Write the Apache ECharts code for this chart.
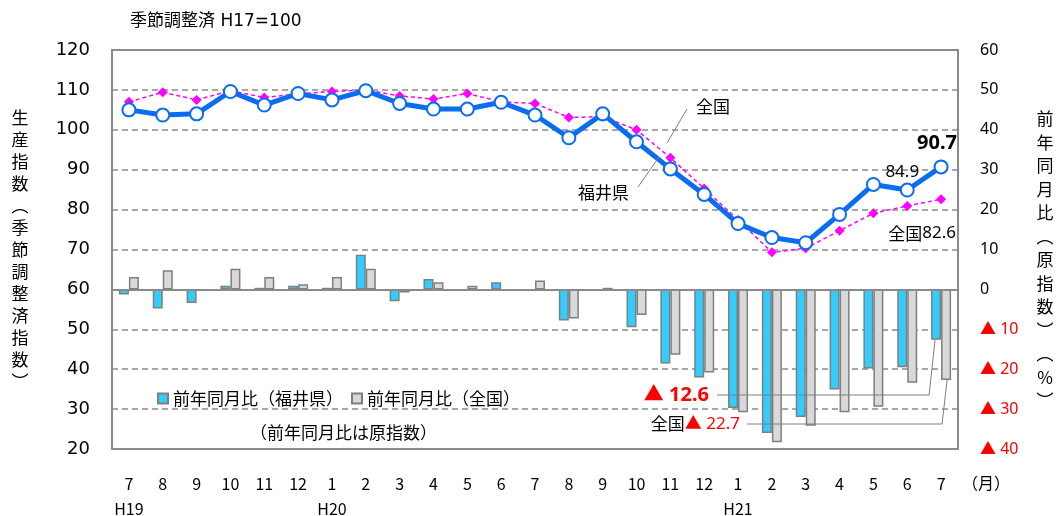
<!DOCTYPE html>
<html>
<head>
<meta charset="utf-8">
<script src="https://cdn.jsdelivr.net/npm/echarts@6/dist/echarts.min.js"></script>
<style>
html,body{margin:0;padding:0;background:#fff}
#chart{width:1059px;height:516px}
</style>
</head>
<body>
<div id="chart"></div>
<script>
// data
const months = ['7','8','9','10','11','12','1','2','3','4','5','6','7','8','9','10','11','12','1','2','3','4','5','6','7'];
const eras   = ['H19','','','','','','H20','','','','','','','','','','','','H21','','','','','',''];
const fukuiIndex  = [105.0,103.7,104.0,109.6,106.2,109.1,107.5,109.8,106.6,105.2,105.2,106.9,103.7,98.0,104.0,97.0,90.2,83.8,76.5,73.0,71.7,78.8,86.3,84.9,90.7];
const nationIndex = [107.0,109.4,107.5,109.8,108.1,109.0,109.6,110.0,108.5,107.7,109.1,107.0,106.6,103.1,103.3,100.0,93.0,85.3,77.4,69.3,70.3,74.7,79.1,80.9,82.6];
const fukuiYoY  = [-1.3,-4.8,-3.4,0.9,0.4,0.9,0.4,8.7,-3.0,2.6,-0.4,1.8,-0.4,-7.8,-0.4,-9.5,-18.6,-22.1,-29.7,-36.0,-32.0,-25.1,-19.8,-19.5,-12.6];
const nationYoY = [3.1,4.8,-0.4,5.2,3.1,1.3,3.1,5.2,-0.8,1.8,0.9,-0.4,2.2,-7.3,0.4,-6.4,-16.4,-20.8,-30.8,-38.3,-34.2,-30.8,-29.4,-23.4,-22.7];
const leftTicks  = {min:20, max:120, step:10};
const rightTicks = {min:-40, max:60, step:10};

const CJK = '"Noto Sans CJK JP", sans-serif';
const NUM = '"DejaVu Sans", "Noto Sans CJK JP", sans-serif';
const LAT = '"Noto Sans", "Noto Sans CJK JP", sans-serif';
const GRID_C = '#8a8a8a';

const chart = echarts.init(document.getElementById('chart'));

const cats = months.map((m,i)=>m+'\n'+eras[i]);
const vert = (s) => s.split('').join('\n');

chart.setOption({
  animation:false,
  backgroundColor:'#fff',
  grid:{left:112,right:101,top:50,bottom:67,outerBoundsMode:'none',
        show:true,borderColor:GRID_C,borderWidth:2,backgroundColor:'transparent'},
  legend:{
    left:152, top:385, itemWidth:10, itemHeight:10, itemGap:8, icon:'rect',
    textStyle:{fontFamily:CJK,fontSize:17,color:'#000'},
    data:['前年同月比（福井県）','前年同月比（全国）']
  },
  xAxis:{
    type:'category', data:cats, boundaryGap:true,
    axisLine:{show:false}, axisTick:{show:false},
    axisLabel:{fontFamily:CJK,fontSize:16,color:'#000',lineHeight:25,margin:22,interval:0}
  },
  yAxis:[
    {type:'value',min:leftTicks.min,max:leftTicks.max,interval:leftTicks.step,
     axisLine:{show:false},axisTick:{show:false},
     axisLabel:{fontFamily:NUM,fontSize:18,color:'#000',margin:22},
     splitLine:{show:true,lineStyle:{color:GRID_C,width:1.5,type:[6,4]}}},
    {type:'value',min:rightTicks.min,max:rightTicks.max,interval:rightTicks.step,position:'right',
     axisLine:{show:false},axisTick:{show:false},splitLine:{show:false},
     axisLabel:{margin:22,
       formatter:(v)=> v<0 ? '{r|▲ '+(-v)+'}' : '{b|'+v+'}',
       rich:{r:{color:'#ff0000',fontFamily:LAT,fontSize:16},b:{color:'#000',fontFamily:LAT,fontSize:16}}}}
  ],
  series:[
    {name:'前年同月比（福井県）',type:'bar',yAxisIndex:1,data:fukuiYoY,barWidth:10,barGap:'0%',
     itemStyle:{color:'#33ccff',borderColor:'#7f7f7f',borderWidth:1.5},
     markLine:{silent:true,symbol:'none',label:{show:false},
       lineStyle:{color:'#8a8a8a',width:2,type:'solid'},data:[{yAxis:0}]}},
    {name:'前年同月比（全国）',type:'bar',yAxisIndex:1,data:nationYoY,barWidth:10,
     itemStyle:{color:'#d9d9d9',borderColor:'#7f7f7f',borderWidth:1.5}},
    {name:'全国',type:'line',yAxisIndex:0,data:nationIndex,
     symbol:'diamond',symbolSize:10,
     lineStyle:{color:'#ff00ff',width:1.5,type:[4,3]},
     itemStyle:{color:'#ff00ff'}},
    {name:'福井県',type:'line',yAxisIndex:0,data:fukuiIndex,
     symbol:'circle',symbolSize:13,
     lineStyle:{color:'#0a6cf0',width:5},
     itemStyle:{color:'#fff',borderColor:'#0a6cf0',borderWidth:2}}
  ]
});

// annotations anchored on the data
const px = (i,v,yi) => chart.convertToPixel({xAxisIndex:0,yAxisIndex:yi},[i,v]);
const last = months.length-1;
const pF  = px(last, fukuiIndex[last], 0);
const pF2 = px(last-1, fukuiIndex[last-1], 0);
const pN  = px(last, nationIndex[last], 0);
const bF  = px(last, fukuiYoY[last], 1);
const bN  = px(last, nationYoY[last], 1);
const bx = bF[0]-5, gx = bN[0]+5;

const txt = (x,y,text,extra) => ({type:'text',x,y,z:100,style:Object.assign({text,fill:'#000',fontFamily:CJK,fontSize:17,verticalAlign:'middle'},extra||{})});
const leader = (pts) => ({type:'polyline',z:90,shape:{points:pts},style:{stroke:'#7f7f7f',lineWidth:1,fill:null}});

chart.setOption({graphic:[
  txt(130,22,'季節調整済 H17=100',{fontFamily:NUM,fontSize:17}),
  txt(20,107,vert('生産指数︵季節調整済指数︶'),{align:'center',verticalAlign:'top',lineHeight:22}),
  txt(1045,107,vert('前年同月比︵原指数︶︵%︶'),{align:'center',verticalAlign:'top',lineHeight:23.5}),
  txt(962,483,'（月）',{fontSize:16}),
  txt(250,433,'（前年同月比は原指数）'),
  txt(pF[0]-4,pF[1]-24,String(fukuiIndex[last]),{align:'center',fontFamily:LAT,fontSize:20,fontWeight:'bold'}),
  txt(pF2[0]-5,pF2[1]-18,String(fukuiIndex[last-1]),{align:'center',fontFamily:LAT,fontSize:17}),
  txt(pN[0]+15,pN[1]+34,'{a|全国}{b|'+nationIndex[last]+'}',{align:'right',
    rich:{a:{fontFamily:CJK,fontSize:17,fill:'#000'},b:{fontFamily:LAT,fontSize:17,fill:'#000'}}}),
  txt(696,107,'全国'),
  leader([[687,109],[667,143]]),
  txt(629,193,'福井県',{align:'right'}),
  leader([[638,187],[659,157]]),
  txt(709,395,'▲ '+(-fukuiYoY[last]),{align:'right',fill:'#ff0000',fontFamily:LAT,fontSize:20,fontWeight:'bold'}),
  leader([[717,395],[bx-7,395],[bx-1,bF[1]]]),
  txt(740,424,'{a|全国}{r|▲ '+(-nationYoY[last])+'}',{align:'right',
    rich:{a:{fontFamily:CJK,fontSize:17,fill:'#000'},r:{fontFamily:LAT,fontSize:17,fill:'#ff0000'}}}),
  leader([[747,424],[gx-4,424],[gx+1,bN[1]]])
]});
</script>
</body>
</html>
